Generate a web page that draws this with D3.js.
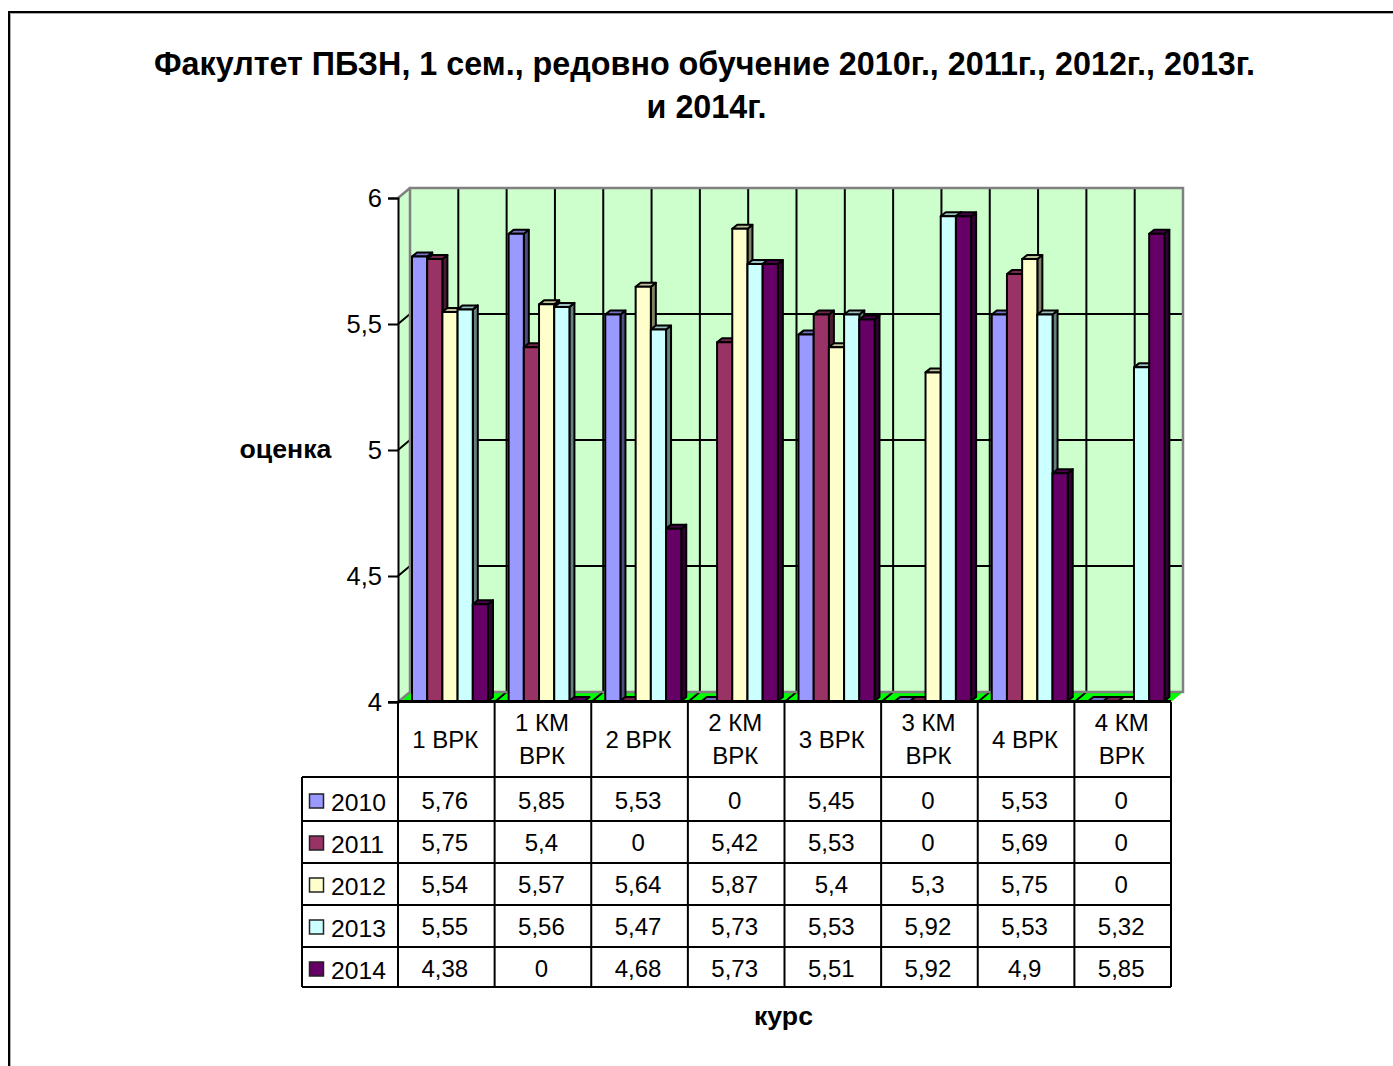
<!DOCTYPE html>
<html>
<head>
<meta charset="utf-8">
<script src="https://cdn.jsdelivr.net/npm/d3@7"></script>
<style>
body { margin: 0; background: #fff; }
text { font-family: "Liberation Sans", Arial, sans-serif; fill: #000; }
</style>
</head>
<body>
<div id="chart"></div>
<script>
// data
const categories = ["1 ВРК", "1 КМ ВРК", "2 ВРК", "2 КМ ВРК", "3 ВРК", "3 КМ ВРК", "4 ВРК", "4 КМ ВРК"]
const years = ["2010", "2011", "2012", "2013", "2014"]
const v2010 = [5.76, 5.85, 5.53, 0, 5.45, 0, 5.53, 0]
const v2011 = [5.75, 5.4, 0, 5.42, 5.53, 0, 5.69, 0]
const v2012 = [5.54, 5.57, 5.64, 5.87, 5.4, 5.3, 5.75, 0]
const v2013 = [5.55, 5.56, 5.47, 5.73, 5.53, 5.92, 5.53, 5.32]
const v2014 = [4.38, 0, 4.68, 5.73, 5.51, 5.92, 4.9, 5.85]
const seriesValues = [v2010, v2011, v2012, v2013, v2014]
const colors = ["#9999ff", "#993366", "#ffffcc", "#ccffff", "#660066"]
const yTicks = [4, 4.5, 5, 5.5, 6]

// dimensions
const width = 1393, height = 1066
const plot = {left: 398, right: 1171, top: 198, bottom: 702}
const depth = {x: 12, y: 10}      // wall offset
const barDepth = {x: 5, y: 4}     // bar offset
const rowLines = [777, 821, 863, 905, 947, 987]
const legendLeft = 302

const svg = d3.select("#chart").append("svg")
    .attr("width", width)
    .attr("height", height)
    .style("display", "block")

// outer frame, black with a thin grey edge inside
svg.append("rect")
    .attr("x", 10.5).attr("y", 13.5)
    .attr("width", width).attr("height", height)
    .attr("fill", "none").attr("stroke", "#aaa").attr("stroke-width", 1)
svg.append("rect")
    .attr("x", 9).attr("y", 12)
    .attr("width", width).attr("height", height)
    .attr("fill", "none").attr("stroke", "#000").attr("stroke-width", 2)

// title
const title = svg.append("text")
    .attr("text-anchor", "middle")
    .attr("font-weight", "bold")
    .style("font-size", "32.3px")
title.append("tspan").attr("x", 704.5).attr("y", 75)
    .text("Факултет ПБЗН, 1 сем., редовно обучение 2010г., 2011г., 2012г., 2013г.")
title.append("tspan").attr("x", 706.5).attr("y", 118).text("и 2014г.")

// scales
const x0 = d3.scaleBand().domain(categories).range([plot.left, plot.right])
const x1 = d3.scaleBand().domain(years).range([14, 90])
const y = d3.scaleLinear().domain([4, 6]).range([plot.bottom, plot.top]).clamp(true)

const poly = pts => "M" + pts.map(p => p.join(",")).join("L") + "Z"
const grey = "#808080"

// left wall, back wall, floor
svg.append("path")
    .attr("d", poly([[plot.left, plot.bottom], [plot.left + depth.x, plot.bottom - depth.y],
        [plot.left + depth.x, plot.top - depth.y], [plot.left, plot.top]]))
    .attr("fill", "#ccffcc")
svg.append("rect")
    .attr("x", plot.left + depth.x).attr("y", plot.top - depth.y)
    .attr("width", plot.right - plot.left).attr("height", plot.bottom - plot.top)
    .attr("fill", "#ccffcc")
svg.append("path")
    .attr("d", poly([[plot.left, plot.bottom], [plot.right, plot.bottom],
        [plot.right + depth.x, plot.bottom - depth.y], [plot.left + depth.x, plot.bottom - depth.y]]))
    .attr("fill", "#00ff00")

// horizontal grid: back wall + left wall diagonal
const gridY = svg.append("g").attr("stroke", "#000").attr("stroke-width", 2).attr("fill", "none")
yTicks.slice(1, -1).forEach(t => {
    gridY.append("path").attr("d", d3.line()([
        [plot.left, y(t)],
        [plot.left + depth.x, y(t) - depth.y],
        [plot.right + depth.x, y(t) - depth.y]
    ]))
})
// vertical grid on back wall, two per category
categories.forEach((c, i) => {
    const xs = [x0(c) + x0.bandwidth() / 2, x0(c) + x0.bandwidth()]
    xs.forEach((xv, j) => {
        if (i === categories.length - 1 && j === 1) return
        gridY.append("line")
            .attr("x1", xv + depth.x).attr("x2", xv + depth.x)
            .attr("y1", plot.top - depth.y).attr("y2", plot.bottom - depth.y)
    })
})
// floor diagonals
categories.forEach((c, i) => {
    if (i === 0) return
    gridY.append("line")
        .attr("x1", x0(c)).attr("y1", plot.bottom)
        .attr("x2", x0(c) + depth.x).attr("y2", plot.bottom - depth.y)
})

// wall borders
svg.append("path")
    .attr("d", d3.line()([
        [plot.left, plot.bottom], [plot.left + depth.x, plot.bottom - depth.y],
        [plot.right + depth.x, plot.bottom - depth.y], [plot.right + depth.x, plot.top - depth.y],
        [plot.left + depth.x, plot.top - depth.y], [plot.left + depth.x, plot.bottom - depth.y]
    ]))
    .attr("fill", "none").attr("stroke", grey).attr("stroke-width", 2.5)
svg.append("path")
    .attr("d", d3.line()([[plot.left, plot.top], [plot.left + depth.x, plot.top - depth.y]]))
    .attr("fill", "none").attr("stroke", grey).attr("stroke-width", 2.5)

// bars, left to right so each covers the side of the previous one
const shade = (col, k) => {
    const c = d3.rgb(col)
    return d3.rgb(c.r * k, c.g * k, c.b * k).formatHex()
}
const bars = []
categories.forEach((c, i) => {
    years.forEach((yr, s) => {
        bars.push({cat: c, year: yr, value: seriesValues[s][i], color: colors[s]})
    })
})
const barG = svg.append("g").selectAll("g")
    .data(bars)
    .join("g")
    .attr("stroke", "#000").attr("stroke-width", 2).attr("stroke-linejoin", "round")

const bx = d => x0(d.cat) + x1(d.year)
const bw = x1.bandwidth()
const base = plot.bottom - 1
const btop = d => y(d.value) - 2

// side
barG.filter(d => d.value > 4).append("path")
    .attr("d", d => poly([[bx(d) + bw, btop(d)], [bx(d) + bw + barDepth.x, btop(d) - barDepth.y],
        [bx(d) + bw + barDepth.x, base - barDepth.y], [bx(d) + bw, base]]))
    .attr("fill", d => shade(d.color, 0.5))
// top
barG.append("path")
    .attr("d", d => {
        const t = d.value > 4 ? btop(d) : base
        return poly([[bx(d), t], [bx(d) + barDepth.x, t - barDepth.y],
            [bx(d) + bw + barDepth.x, t - barDepth.y], [bx(d) + bw, t]])
    })
    .attr("fill", d => shade(d.color, 0.75))
// front
barG.filter(d => d.value > 4).append("rect")
    .attr("x", bx)
    .attr("y", btop)
    .attr("width", bw)
    .attr("height", d => base - btop(d))
    .attr("fill", d => d.color)

// y axis
const yAxis = d3.axisLeft(y)
    .tickValues(yTicks)
    .tickSize(10)
    .tickPadding(6)
    .tickFormat(d => String(d).replace(".", ","))
svg.append("g")
    .attr("transform", `translate(${plot.left},0)`)
    .call(yAxis)
    .call(g => g.select(".domain").attr("stroke-width", 2))
    .call(g => g.selectAll(".tick line").attr("stroke-width", 2).attr("stroke", "#000"))
    .call(g => g.selectAll(".tick text")
        .style("font-family", '"Liberation Sans", Arial, sans-serif')
        .style("font-size", "25.5px"))

// data table
const table = svg.append("g").attr("stroke", "#000").attr("stroke-width", 2)
table.append("line")
    .attr("x1", plot.left - 10).attr("x2", plot.right)
    .attr("y1", plot.bottom).attr("y2", plot.bottom)
table.append("line")
    .attr("x1", plot.left).attr("x2", plot.right)
    .attr("y1", plot.bottom - 1).attr("y2", plot.bottom - 1)
rowLines.forEach(r => {
    table.append("line")
        .attr("x1", legendLeft).attr("x2", plot.right)
        .attr("y1", r).attr("y2", r)
})
table.append("line")
    .attr("x1", legendLeft).attr("x2", legendLeft)
    .attr("y1", rowLines[0]).attr("y2", rowLines[5])
categories.concat([null]).forEach(c => {
    const xv = c ? x0(c) : plot.right
    table.append("line")
        .attr("x1", xv).attr("x2", xv)
        .attr("y1", plot.bottom).attr("y2", rowLines[5])
})

// category headers
categories.forEach(c => {
    const cx = x0(c) + x0.bandwidth() / 2 - 1
    const lines = c.includes("КМ") ? [c.replace(" ВРК", ""), "ВРК"] : [c]
    const start = lines.length === 1 ? 748 : 731
    const t = svg.append("text").attr("text-anchor", "middle").style("font-size", "24px")
    lines.forEach((l, i) => t.append("tspan").attr("x", cx).attr("y", start + i * 33).text(l))
})

// rows
const rowY = d3.scalePoint().domain(years).range([801, 969])
years.forEach((yr, s) => {
    svg.append("rect")
        .attr("x", 309.5).attr("y", rowY(yr) - 7)
        .attr("width", 14).attr("height", 14)
        .attr("fill", colors[s])
        .attr("stroke", "#222").attr("stroke-width", 1.5)
    svg.append("text")
        .attr("x", 331).attr("y", rowY(yr) + 10)
        .style("font-size", "24.7px")
        .text(yr)
    categories.forEach((c, i) => {
        svg.append("text")
            .attr("x", x0(c) + x0.bandwidth() / 2 - 1.5)
            .attr("y", rowY(yr) + 8)
            .attr("text-anchor", "middle")
            .style("font-size", "24px")
            .text(String(seriesValues[s][i]).replace(".", ","))
    })
})

// axis titles
svg.append("text")
    .attr("x", 285.5).attr("y", 458)
    .attr("text-anchor", "middle")
    .attr("font-weight", "bold")
    .style("font-size", "26.7px")
    .text("оценка")
svg.append("text")
    .attr("x", 783.5).attr("y", 1025)
    .attr("text-anchor", "middle")
    .attr("font-weight", "bold")
    .style("font-size", "26.7px")
    .text("курс")
</script>
</body>
</html>
